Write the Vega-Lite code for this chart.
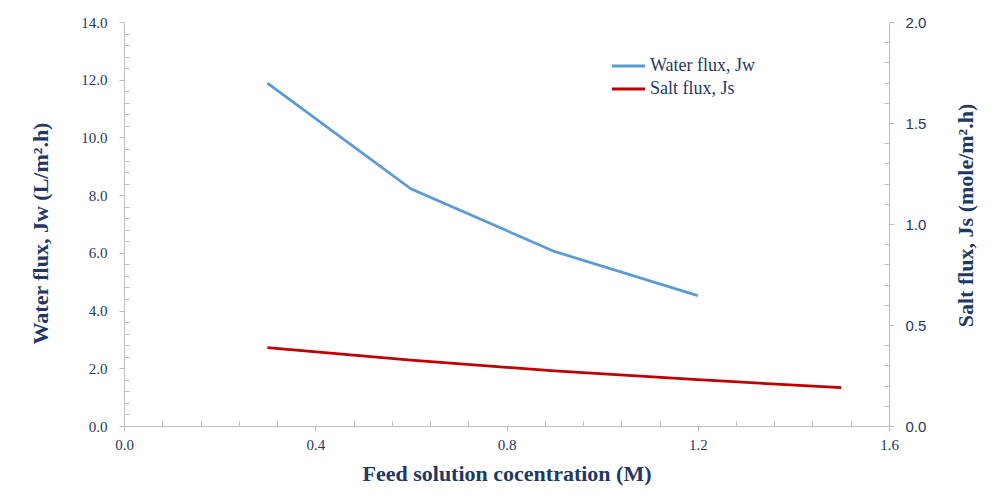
{
  "$schema": "https://vega.github.io/schema/vega-lite/v6.json",
  "autosize": {"type": "none"},
  "width": 765,
  "height": 404,
  "padding": {"left": 124, "top": 22, "right": 108, "bottom": 72},
  "background": "white",
  "config": {
    "view": {"stroke": null},
    "axis": {"grid": false, "domainColor": "#BFBFBF", "tickColor": "#BFBFBF", "labelColor": "#1F3864", "titleColor": "#1F3864", "labelFont": "Liberation Serif", "labelFontSize": 15, "titleFont": "Liberation Serif", "titleFontSize": 22, "titleFontWeight": "bold"}
  },
  "data": {"values": [
    {"c": 0.3, "series": "Water flux, Jw", "v": 11.88},
    {"c": 0.6, "series": "Water flux, Jw", "v": 8.22},
    {"c": 0.9, "series": "Water flux, Jw", "v": 6.05},
    {"c": 1.2, "series": "Water flux, Jw", "v": 4.52},
    {"c": 0.3, "series": "Salt flux, Js", "v": 0.388},
    {"c": 0.6, "series": "Salt flux, Js", "v": 0.326},
    {"c": 0.9, "series": "Salt flux, Js", "v": 0.273},
    {"c": 1.2, "series": "Salt flux, Js", "v": 0.229},
    {"c": 1.5, "series": "Salt flux, Js", "v": 0.19}
  ]},
  "resolve": {"scale": {"y": "independent"}, "axis": {"x": "independent", "y": "independent"}},
  "layer": [
    {
      "transform": [{"filter": "datum.series === 'Water flux, Jw'"}],
      "mark": {"type": "line", "strokeOpacity": 0},
      "encoding": {
        "x": {"field": "c", "type": "quantitative", "scale": {"domain": [0, 1.6], "nice": false},
          "axis": {"orient": "bottom", "values": [0.08,0.16,0.24,0.32,0.48,0.56,0.64,0.72,0.88,0.96,1.04,1.12,1.28,1.36,1.44,1.52], "labels": false, "domain": false, "tickSize": -5, "title": null}},
        "y": {"field": "v", "type": "quantitative", "scale": {"domain": [0, 14], "nice": false},
          "axis": {"orient": "left", "values": [0.4,0.8,1.2,1.6,2.4,2.8,3.2,3.6,4.4,4.8,5.2,5.6,6.4,6.8,7.2,7.6,8.4,8.8,9.2,9.6,10.4,10.8,11.2,11.6,12.4,12.8,13.2,13.6], "labels": false, "domain": false, "tickSize": -5, "title": null}}
      }
    },
    {
      "transform": [{"filter": "datum.series === 'Salt flux, Js'"}],
      "mark": {"type": "line", "strokeOpacity": 0},
      "encoding": {
        "x": {"field": "c", "type": "quantitative", "scale": {"domain": [0, 1.6], "nice": false}, "axis": null},
        "y": {"field": "v", "type": "quantitative", "scale": {"domain": [0, 2], "nice": false},
          "axis": {"orient": "right", "values": [0.1,0.2,0.3,0.4,0.6,0.7,0.8,0.9,1.1,1.2,1.3,1.4,1.6,1.7,1.8,1.9], "labels": false, "domain": false, "tickSize": -5, "title": null}}
      }
    },
    {
      "transform": [{"filter": "datum.series === 'Water flux, Jw'"}],
      "mark": {"type": "line", "strokeWidth": 2.75},
      "encoding": {
        "x": {"field": "c", "type": "quantitative", "scale": {"domain": [0, 1.6], "nice": false},
          "axis": {"orient": "bottom", "values": [0, 0.4, 0.8, 1.2, 1.6], "format": ".1f", "labelFlush": false, "tickSize": 5, "labelPadding": 6, "title": "Feed solution cocentration (M)", "titlePadding": 11}},
        "y": {"field": "v", "type": "quantitative", "scale": {"domain": [0, 14], "nice": false},
          "axis": {"orient": "left", "values": [0,2,4,6,8,10,12,14], "format": ".1f", "labelFlush": false, "tickSize": 5, "labelPadding": 12, "title": "Water flux, Jw (L/m².h)", "titlePadding": 28, "titleY": 211}},
        "color": {"field": "series", "type": "nominal",
          "scale": {"domain": ["Water flux, Jw", "Salt flux, Js"], "range": ["#5B9BD5", "#C00000"]},
          "legend": {"orient": "none", "legendX": 486, "legendY": 34, "title": null, "symbolType": "stroke", "symbolSize": 1100, "symbolStrokeWidth": 3, "clipHeight": 20, "labelFont": "Liberation Serif", "labelFontSize": 18, "labelColor": "#1F3864", "rowPadding": 3, "labelOffset": 3}}
      }
    },
    {
      "transform": [{"filter": "datum.series === 'Salt flux, Js'"}],
      "mark": {"type": "line", "strokeWidth": 2.75},
      "encoding": {
        "x": {"field": "c", "type": "quantitative", "scale": {"domain": [0, 1.6], "nice": false}, "axis": null},
        "y": {"field": "v", "type": "quantitative", "scale": {"domain": [0, 2], "nice": false},
          "axis": {"orient": "right", "values": [0,0.5,1,1.5,2], "format": ".1f", "labelFlush": false, "tickSize": 5, "labelPadding": 11, "labelFont": "Liberation Sans", "labelFontSize": 15, "title": "Salt flux, Js (mole/m².h)", "titleAngle": 270, "titlePadding": 52, "titleY": 193}},
        "color": {"field": "series", "type": "nominal"}
      }
    }
  ]
}
